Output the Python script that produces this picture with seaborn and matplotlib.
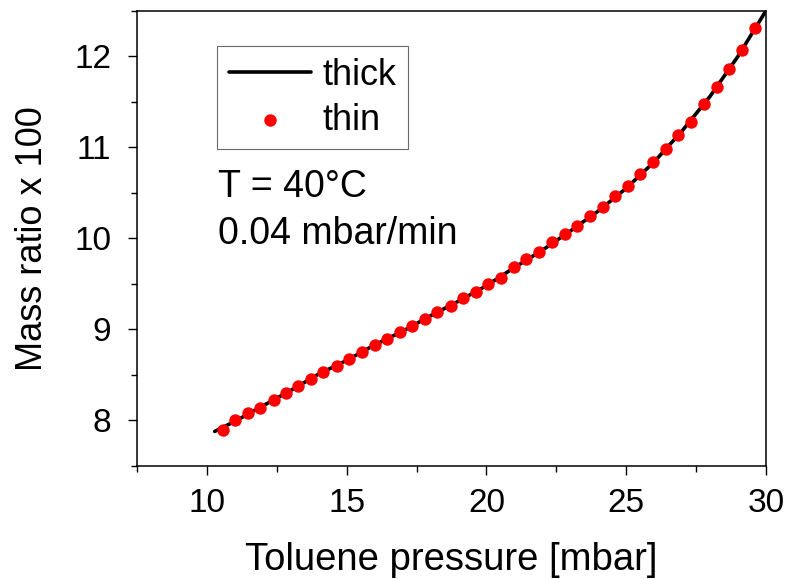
import matplotlib
matplotlib.use("Agg")
import matplotlib.pyplot as plt
import seaborn as sns
import pandas as pd
from matplotlib.ticker import MultipleLocator

# ---- data ----
thick_pressure = [10.28, 11.0, 12.0, 13.0, 14.0, 15.0, 16.0, 17.0, 18.0, 19.0, 20.0,
                  21.0, 22.0, 23.0, 24.0, 25.0, 26.0, 27.0, 28.0, 29.0, 29.6, 30.0]
thick_ratio = [7.88, 7.99, 8.16, 8.33, 8.51, 8.66, 8.83, 8.98, 9.15, 9.31, 9.48,
               9.68, 9.87, 10.08, 10.30, 10.55, 10.84, 11.18, 11.56, 12.00, 12.30, 12.50]

thin_pressure = [10.57, 11.01, 11.46, 11.91, 12.39, 12.82, 13.27, 13.72, 14.16, 14.64,
                 15.09, 15.56, 16.01, 16.45, 16.91, 17.35, 17.80, 18.24, 18.72, 19.17,
                 19.62, 20.06, 20.53, 20.99, 21.41, 21.89, 22.34, 22.81, 23.25, 23.70,
                 24.17, 24.61, 25.07, 25.51, 25.97, 26.41, 26.84, 27.31, 27.78, 28.23,
                 28.68, 29.15, 29.60]
thin_ratio = [7.90, 8.00, 8.08, 8.14, 8.23, 8.30, 8.38, 8.45, 8.53, 8.60,
              8.68, 8.75, 8.83, 8.89, 8.97, 9.04, 9.11, 9.19, 9.26, 9.35,
              9.41, 9.50, 9.56, 9.68, 9.77, 9.85, 9.96, 10.05, 10.14, 10.25,
              10.34, 10.46, 10.57, 10.71, 10.84, 10.98, 11.13, 11.28, 11.47, 11.66,
              11.86, 12.07, 12.31]

series_labels = ["thick", "thin"]
x_label = "Toluene pressure [mbar]"
y_label = "Mass ratio x 100"
annotation = ["T = 40°C", "0.04 mbar/min"]

# ---- style ----
sns.set_style("ticks")
plt.rcParams["font.family"] = ["Liberation Sans", "DejaVu Sans"]
plt.rcParams["text.color"] = "black"
plt.rcParams["axes.labelcolor"] = "black"
plt.rcParams["xtick.color"] = "black"
plt.rcParams["ytick.color"] = "black"

fig = plt.figure(figsize=(7.93, 5.79), dpi=100)
ax = fig.add_axes([137 / 793, 1 - 466 / 579, (766 - 137) / 793, (466 - 10.7) / 579])

df_thick = pd.DataFrame({"p": thick_pressure, "r": thick_ratio})
df_thin = pd.DataFrame({"p": thin_pressure, "r": thin_ratio})

sns.lineplot(data=df_thick, x="p", y="r", ax=ax, color="black", linewidth=2.6,
             label=series_labels[0], sort=True, zorder=2)
sns.scatterplot(data=df_thin, x="p", y="r", ax=ax, color="#ff0000", s=80,
                linewidth=0, label=series_labels[1], zorder=3)

ax.set_xlim(7.5, 30)
ax.set_ylim(7.5, 12.5)
ax.xaxis.set_major_locator(MultipleLocator(5))
ax.xaxis.set_minor_locator(MultipleLocator(2.5))
ax.yaxis.set_major_locator(MultipleLocator(1))
ax.yaxis.set_minor_locator(MultipleLocator(0.5))

for s in ax.spines.values():
    s.set_visible(True)
    s.set_linewidth(1.1)
    s.set_color("black")

ax.tick_params(axis="both", which="major", direction="out", length=6.5, width=1.0,
               labelsize=24, colors="black")
ax.tick_params(axis="x", which="major", pad=9)
ax.tick_params(axis="y", which="major", pad=12)
ax.tick_params(axis="both", which="minor", direction="out", length=4.3, width=1.0)
ax.tick_params(top=False, right=False, which="both")

ax.set_xlabel(x_label, fontsize=27.5, labelpad=17, color="black")
ax.set_ylabel(y_label, fontsize=26, color="black")
ax.yaxis.set_label_coords(-0.138, 0.5)

leg = ax.legend(loc="upper left", bbox_to_anchor=((217 - 137) / 629, (466 - 46) / 455.3),
                borderaxespad=0, fontsize=26, frameon=True, fancybox=False,
                handlelength=2.29, handletextpad=0.32, borderpad=0.32,
                labelspacing=0.28, markerscale=1.0)
leg.get_frame().set_edgecolor("#444444")
leg.get_frame().set_linewidth(0.8)
for t in leg.get_texts():
    t.set_color("black")

ax.text((218 - 137) / 629, (466 - 196.7) / 455.3, annotation[0], transform=ax.transAxes,
        fontsize=27, ha="left", va="baseline", color="black")
ax.text((218 - 137) / 629, (466 - 244) / 455.3, annotation[1], transform=ax.transAxes,
        fontsize=27, ha="left", va="baseline", color="black")

fig.savefig("out.png", dpi=100)
